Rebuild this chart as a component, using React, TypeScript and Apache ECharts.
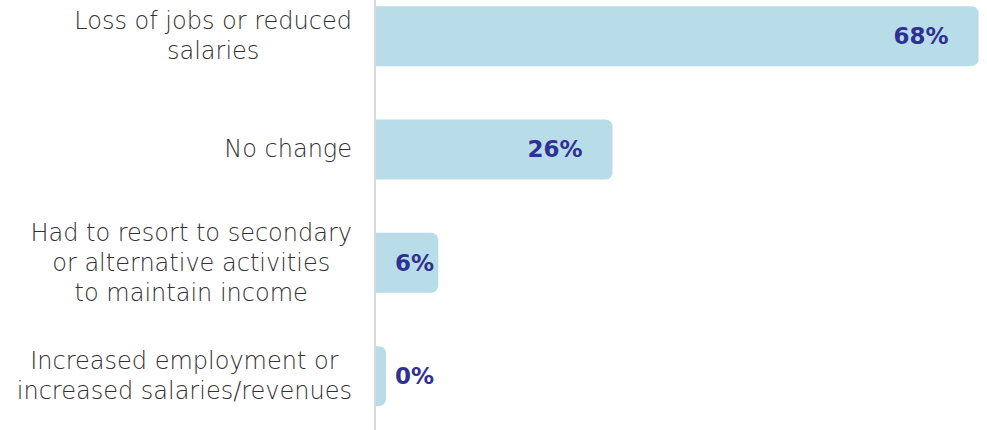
import React, { useEffect, useRef } from "react";
import * as echarts from "echarts";

const categories: string[] = [
  "Loss of jobs or reduced\nsalaries",
  "No change",
  "Had to resort to secondary\nor alternative activities\nto maintain income",
  "Increased employment or\nincreased salaries/revenues",
];
const values: number[] = [68, 26, 6, 0];
// visual base stub every bar carries (the 0% bar is still drawn as a small tab)
const BAR_BASE = 1.26;

export default function App() {
  const ref = useRef<HTMLDivElement>(null);
  useEffect(() => {
    if (!ref.current) return;
    const chart = echarts.init(ref.current, null, { renderer: "svg" });
    const data = values.map((v) => ({
      value: v + BAR_BASE,
      raw: v,
      label:
        v >= 10
          ? { position: "insideRight", distance: 30 }
          : { position: [20, "50%"], align: "left", verticalAlign: "middle" },
    }));
    chart.setOption({
      animation: false,
      grid: {
        left: 375,
        width: 610,
        top: -20.5,
        height: 453.33,
        outerBoundsMode: "none",
        containLabel: false,
      },
      xAxis: {
        type: "value",
        min: 0,
        max: 70,
        show: false,
        splitLine: { show: false },
      },
      yAxis: {
        type: "category",
        data: categories,
        inverse: true,
        z: 5,
        axisTick: { show: false },
        axisLine: { show: true, lineStyle: { color: "#d9d9d9", width: 2 } },
        axisLabel: {
          margin: 23,
          formatter: (val: string) =>
            val
              .split("\n")
              .map((l) => `{c|${l}}`)
              .join("\n"),
          rich: {
            c: {
              align: "center",
              fontFamily: "DejaVu Sans",
              fontWeight: 300,
              fontSize: 24,
              lineHeight: 30,
              color: "#303030",
            },
          },
        },
      },
      series: [
        {
          type: "bar",
          data,
          barWidth: 60,
          itemStyle: { color: "#b9dde8", borderRadius: [0, 7, 7, 0] },
          label: {
            show: true,
            color: "#2e3192",
            fontWeight: "bold",
            fontFamily: "DejaVu Sans",
            fontSize: 23,
            formatter: (p: any) => `${p.data.raw}%`,
          },
        },
      ],
    });
    return () => chart.dispose();
  }, []);
  return (
    <div
      ref={ref}
      style={{ position: "absolute", left: 0, top: 0, width: 987, height: 430 }}
    />
  );
}
